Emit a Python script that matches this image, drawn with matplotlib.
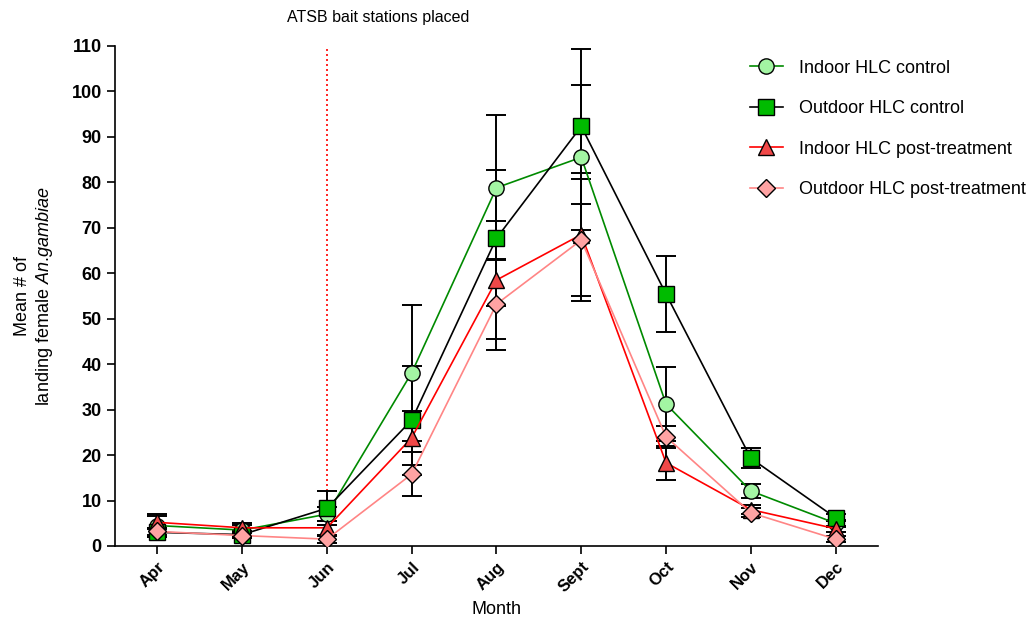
import matplotlib
matplotlib.use("Agg")
import matplotlib.pyplot as plt
import numpy as np

plt.rcParams["font.family"] = ["Liberation Sans", "DejaVu Sans"]
plt.rcParams["mathtext.fontset"] = "custom"
plt.rcParams["mathtext.it"] = "Liberation Sans:italic"
plt.rcParams["mathtext.rm"] = "Liberation Sans"

months = ["Apr", "May", "Jun", "Jul", "Aug", "Sept", "Oct", "Nov", "Dec"]

indoor_ctrl = [4.5, 3.5, 7.0, 38.1, 78.8, 85.5, 31.2, 12.1, 5.0]
indoor_ctrl_err = [2.5, 1.2, 1.5, 15.0, 16.0, 16.0, 8.1, 1.6, 0.8]

outdoor_ctrl = [3.0, 2.5, 8.3, 27.7, 67.7, 92.3, 55.4, 19.3, 6.2]
outdoor_ctrl_err = [1.0, 0.8, 3.7, 12.0, 14.9, 17.0, 8.4, 2.2, 0.8]

indoor_post = [5.2, 4.0, 4.0, 23.8, 58.5, 68.5, 18.3, 8.0, 3.8]
indoor_post_err = [1.5, 1.0, 1.5, 6.0, 13.0, 13.6, 3.8, 1.0, 0.7]

outdoor_post = [3.2, 2.3, 1.5, 15.8, 53.2, 67.3, 24.0, 7.3, 1.5]
outdoor_post_err = [0.8, 0.6, 0.8, 4.9, 10.0, 13.5, 2.5, 1.0, 0.6]

x = np.arange(len(months))

fig = plt.figure(figsize=(10.32, 6.22), dpi=100)
ax = fig.add_axes([0.1114, 0.1222, 0.7394, 0.804])

series = [
    ("Indoor HLC control", indoor_ctrl, indoor_ctrl_err, "o", "#a3f5a3", "#008a00"),
    ("Outdoor HLC control", outdoor_ctrl, outdoor_ctrl_err, "s", "#00bb00", "black"),
    ("Indoor HLC post-treatment", indoor_post, indoor_post_err, "^", "#f04848", "#ff0000"),
    ("Outdoor HLC post-treatment", outdoor_post, outdoor_post_err, "D", "#ffa3a3", "#ff8585"),
]

for label, vals, err, mk, face, lc in series:
    ax.errorbar(x, vals, yerr=err, fmt="none", ecolor="black", elinewidth=1.4,
                capsize=7, capthick=1.4, zorder=2)
    ms = 9 if mk == "D" else 11
    ax.plot(x, vals, color=lc, lw=1.2, marker=mk, markersize=ms,
            markerfacecolor=face, markeredgecolor="black", markeredgewidth=1.0,
            label=label, zorder=3)

ax.axvline(2, ymin=0, ymax=1.0, color="red", ls=(0, (1.2, 1.8)), lw=1.2, zorder=1)
ax.text(2.6, 114.5, "ATSB bait stations placed", ha="center", va="bottom", fontsize=11.5)

ax.set_xlim(-0.5, 8.5)
ax.set_ylim(0, 110)
ax.set_yticks(np.arange(0, 111, 10))
ax.set_xticks(x)
ax.set_xticklabels(months, rotation=45, ha="right", rotation_mode="anchor",
                   fontweight="bold", fontsize=12)
for t in ax.get_yticklabels():
    t.set_fontweight("bold")
    t.set_fontsize(13)
ax.tick_params(direction="out", length=6, width=1.2)
for s in ["top", "right"]:
    ax.spines[s].set_visible(False)
for s in ["left", "bottom"]:
    ax.spines[s].set_linewidth(1.2)

ax.set_xlabel("Month", fontsize=13)
ax.set_ylabel("Mean # of\nlanding female $\\it{An}$.$\\it{gambiae}$", fontsize=13, labelpad=12)

ax.legend(loc="upper left", bbox_to_anchor=(0.811, 1.005), frameon=False,
          fontsize=13, labelspacing=1.3, handlelength=1.8, handletextpad=0.9)

fig.savefig("out.png", dpi=100)
